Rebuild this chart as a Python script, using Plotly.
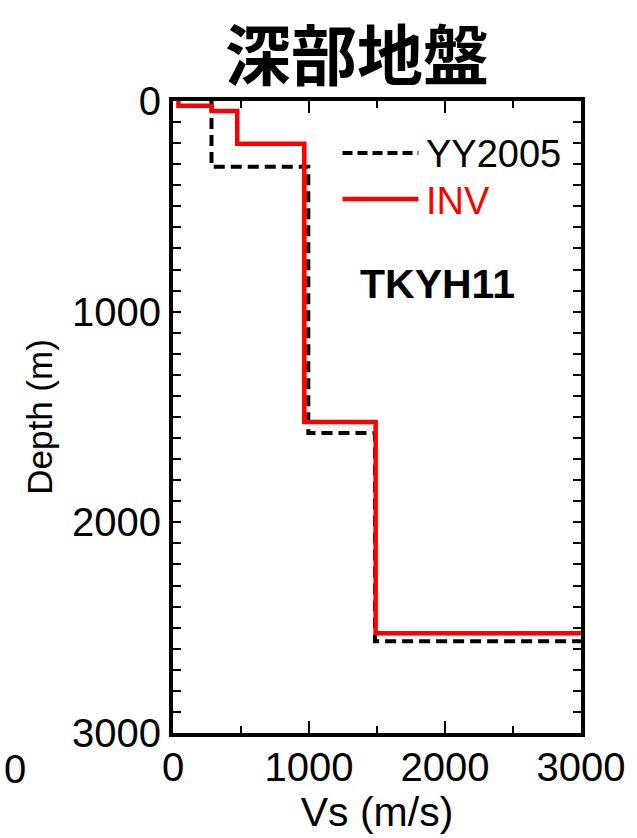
import plotly.graph_objects as go

# YY2005 model (step profile): Vs (m/s) and depth (m)
yy_vs = [283, 283, 995, 995, 1485, 1485, 3100]
yy_depth = [0, 312, 312, 1576, 1576, 2565, 2565]

# INV model
inv_vs = [40, 40, 285, 285, 472, 472, 965, 965, 1490, 1490, 3100]
inv_depth = [0, 22, 22, 47, 47, 203, 203, 1524, 1524, 2527, 2527]

title_text = "深部地盤"
site_label = "TKYH11"
x_ticks = [0, 1000, 2000, 3000]
y_ticks = [0, 1000, 2000, 3000]

FONT = "Liberation Sans, Arial, sans-serif"
L, R, T, B = 173, 50, 101, 105
W, H = 637, 838
PW, PH = W - L - R, H - T - B


def px_to_paper(px, py):
    return (px - L) / PW, (H - B - py) / PH


fig = go.Figure()
fig.add_trace(go.Scatter(x=yy_vs, y=yy_depth, mode="lines", name="YY2005",
                         line=dict(color="black", width=4, dash="11px,6px"),
                         showlegend=False))
fig.add_trace(go.Scatter(x=inv_vs, y=inv_depth, mode="lines", name="INV",
                         line=dict(color="#ff0000", width=4.5),
                         showlegend=False))

axis_common = dict(showline=True, linecolor="black", linewidth=4, mirror="ticks",
                   ticks="inside", tickwidth=2, tickcolor="black",
                   showgrid=False, zeroline=False,
                   tickfont=dict(family=FONT, size=40, color="black"))

fig.update_xaxes(range=[0, 3000], tickvals=x_ticks, ticklen=12, ticklabelstandoff=-4,
                 minor=dict(dtick=500, ticks="inside", ticklen=7, tickwidth=2, tickcolor="black", showgrid=False),
                 title=dict(text="Vs (m/s)", font=dict(family=FONT, size=41, color="black"), standoff=0),
                 **axis_common)
fig.update_yaxes(range=[3000, 0], tickvals=y_ticks, ticklen=8,
                 minor=dict(dtick=100, ticks="inside", ticklen=8, tickwidth=2, tickcolor="black", showgrid=False),
                 title=dict(text="Depth (m)", font=dict(family=FONT, size=35, color="black"), standoff=10),
                 **axis_common)

# manual legend (decoration)
x0, y0 = px_to_paper(345, 153)
x1, _ = px_to_paper(422, 153)
_, y1 = px_to_paper(345, 199)
fig.add_shape(type="line", xref="paper", yref="paper", x0=x0, x1=x1, y0=y0, y1=y0,
              line=dict(color="black", width=4, dash="10px,5px"))
fig.add_shape(type="line", xref="paper", yref="paper", x0=x0, x1=x1, y0=y1, y1=y1,
              line=dict(color="#ff0000", width=4.5))
tx, ty = px_to_paper(428, 154)
fig.add_annotation(text="YY2005", xref="paper", yref="paper", x=tx, y=ty, xanchor="left",
                   yanchor="middle", showarrow=False, font=dict(family=FONT, size=38, color="black"))
tx, ty = px_to_paper(428, 201)
fig.add_annotation(text="INV", xref="paper", yref="paper", x=tx, y=ty, xanchor="left",
                   yanchor="middle", showarrow=False, font=dict(family=FONT, size=38, color="#ff0000"))
tx, ty = px_to_paper(441, 284)
fig.add_annotation(text="<b>" + site_label + "</b>", xref="paper", yref="paper", x=tx, y=ty,
                   xanchor="center", yanchor="middle", showarrow=False,
                   font=dict(family=FONT, size=41, color="black"))
tx, ty = px_to_paper(13, 769)
fig.add_annotation(text="0", xref="paper", yref="paper", x=tx, y=ty,
                   xanchor="center", yanchor="middle", showarrow=False,
                   font=dict(family=FONT, size=40, color="black"))

# chart title as a paper annotation (real text bbox keeps it inside the page)
tx, ty = px_to_paper(360, 1)
fig.add_annotation(text="<b>" + title_text + "</b>", xref="paper", yref="paper", x=tx, y=ty,
                   xanchor="center", yanchor="top", showarrow=False,
                   font=dict(family="Noto Sans CJK JP", size=66, color="black"))

fig.update_layout(
    width=W, height=H,
    margin=dict(l=L, r=R, t=T, b=B),
    paper_bgcolor="white", plot_bgcolor="white",
    showlegend=False,
)

fig.write_html("out.html")
